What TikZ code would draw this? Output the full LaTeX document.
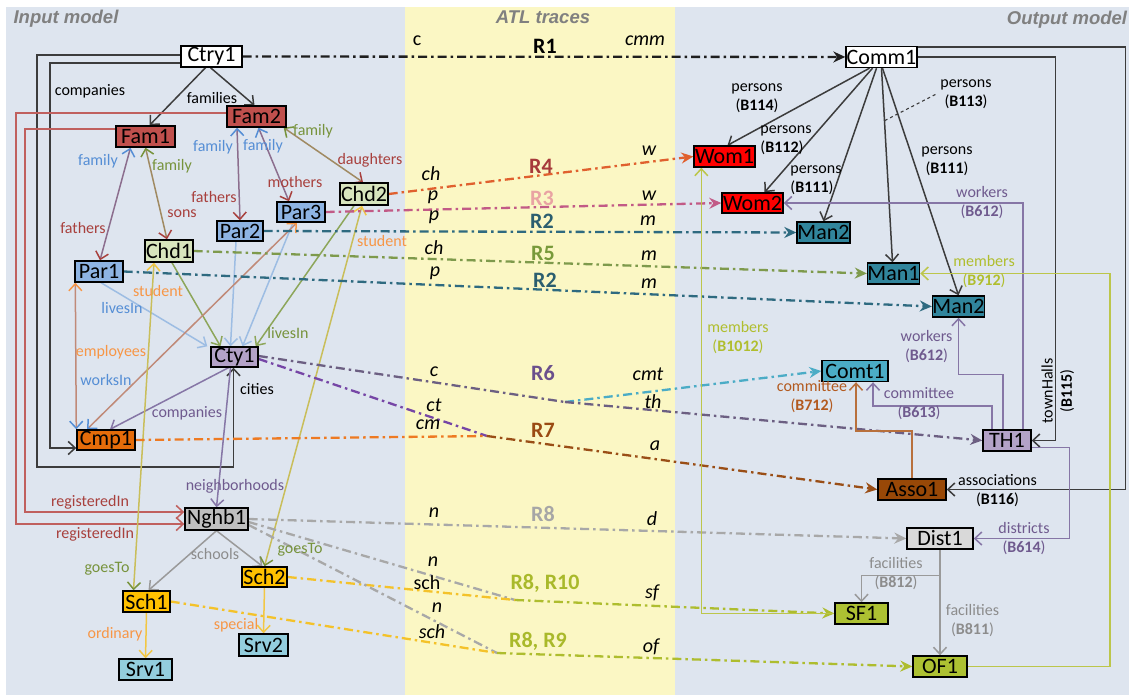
\documentclass[tikz,border=0pt]{standalone}
\usepackage{fontspec}
\setmainfont{Carlito}
\newfontfamily\headfont{Liberation Sans}
\usetikzlibrary{arrows.meta,calc}

\pgfdeclarelayer{back}
\pgfdeclarelayer{wires}
\pgfsetlayers{back,wires,main}

% panel colours
\definecolor{panelbg}{HTML}{DEE5EF}
\definecolor{bandbg}{HTML}{FBF7C4}
\definecolor{headgrey}{HTML}{808080}
% object fills
\definecolor{famfill}{HTML}{C0504D}
\definecolor{chdfill}{HTML}{D7E4BD}
\definecolor{parfill}{HTML}{8EB4E3}
\definecolor{lavfill}{HTML}{B3A2C7}
\definecolor{cmpfill}{HTML}{E46C0A}
\definecolor{nghbfill}{HTML}{BFBFBF}
\definecolor{schfill}{HTML}{FFC000}
\definecolor{srvfill}{HTML}{93CDDD}
\definecolor{womfill}{HTML}{FF0000}
\definecolor{manfill}{HTML}{31859C}
\definecolor{comtfill}{HTML}{4BACC6}
\definecolor{assofill}{HTML}{984807}
\definecolor{distfill}{HTML}{D9D9D9}
\definecolor{facfill}{HTML}{ADC132}
% label colours
\definecolor{txblue}{HTML}{558ED5}
\definecolor{txgreen}{HTML}{77933C}
\definecolor{txred}{HTML}{A8403D}
\definecolor{txorange}{HTML}{F79646}
\definecolor{txpurple}{HTML}{6F5A8E}
\definecolor{txgrey}{HTML}{8C8C8C}
\definecolor{txbrown}{HTML}{B35A1F}
\definecolor{txlime}{HTML}{B0BE2E}
% reference line colours
\definecolor{lndark}{HTML}{3C3C3C}
\definecolor{lnred}{HTML}{C0605E}
\definecolor{lnblue}{HTML}{9DBDE3}
\definecolor{lngreen}{HTML}{8DA65A}
\definecolor{lnredblue}{HTML}{8C6E8E}
\definecolor{lnredgreen}{HTML}{A08A62}
\definecolor{lnorange}{HTML}{C08A78}
\definecolor{lnyellow}{HTML}{F2C744}
\definecolor{lnstudent}{HTML}{C9BE5A}
\definecolor{lnpurple}{HTML}{8676A6}
\definecolor{lnbrown}{HTML}{B8703C}
\definecolor{lnlime}{HTML}{BCC64A}
\definecolor{lngrey}{HTML}{9A9A9A}
% trace colours
\definecolor{trblack}{HTML}{1E1E1E}
\definecolor{trRfour}{HTML}{E0602E}
\definecolor{trRthree}{HTML}{C25A86}
\definecolor{trteal}{HTML}{2E6A80}
\definecolor{trRfive}{HTML}{7E9A4C}
\definecolor{trRsix}{HTML}{6C5F82}
\definecolor{trcyan}{HTML}{4BACC6}
\definecolor{trpurple}{HTML}{7646A6}
\definecolor{trorange}{HTML}{EE7A22}
\definecolor{trbrown}{HTML}{9A4E16}
\definecolor{trgrey}{HTML}{A8A8A8}
\definecolor{trgold}{HTML}{F4C22A}
\definecolor{trlime}{HTML}{AEBD2E}
% rule name colours
\definecolor{rnRfour}{HTML}{A63A3A}
\definecolor{rnRthree}{HTML}{E9A3A3}
\definecolor{rnRtwo}{HTML}{2B5E6F}
\definecolor{rnRfive}{HTML}{789A3A}
\definecolor{rnRsix}{HTML}{6A4F8C}
\definecolor{rnRseven}{HTML}{9A4A12}
\definecolor{rnReight}{HTML}{A6A6A6}
\definecolor{rnlime}{HTML}{A9B92A}

\tikzset{
  obj/.style={draw=black, line width=1.4pt, inner sep=0pt, minimum height=21pt,
    font=\fontsize{22}{22}\selectfont},
  lbl/.style={inner sep=0pt, font=\fontsize{16}{19}\selectfont, align=center},
  endname/.style={inner sep=0pt, font=\fontsize{20}{22}\selectfont\itshape},
  endup/.style={inner sep=0pt, font=\fontsize{20}{22}\selectfont},
  rulename/.style={inner sep=0pt, font=\fontsize{22}{24}\selectfont\bfseries},
  headline/.style={inner sep=0pt, text=headgrey,
    font=\headfont\fontsize{18.5}{20}\selectfont\bfseries\itshape},
  ref/.style={draw=#1, line width=1.5pt, -{Straight Barb[length=7pt,width=13pt]}},
  ref/.default=lndark,
  bi/.style n args={3}{draw=#1, line width=1.5pt,
    {Straight Barb[length=7pt,width=13pt,color=#2]}-{Straight Barb[length=7pt,width=13pt,color=#3]}},
  link/.style={draw=#1, line width=2.3pt, dash pattern=on 9pt off 4pt on 2.5pt off 4pt},
  trace/.style={link=#1, -{Stealth[length=12pt,width=11pt,inset=4pt]}},
}

\begin{document}
\begin{tikzpicture}[x=1pt,y=-1pt]
\useasboundingbox (0,0) rectangle (1129,695);
\begin{pgfonlayer}{back}
  \fill[white] (0,0) rectangle (1129,695);
  \fill[panelbg] (6,7) rectangle (1129,695);
  \fill[bandbg] (405,7) rectangle (675,695);
\end{pgfonlayer}

% ---------- input model objects ----------
\node[obj, fill=white, minimum width=61pt] (ctry) at (211.5,56.5) {Ctry1};
\node[obj, fill=famfill, minimum width=59pt] (fam1) at (145.5,136.5) {Fam1};
\node[obj, fill=famfill, minimum width=59pt] (fam2) at (256.5,116.5) {Fam2};
\node[obj, fill=chdfill, minimum width=48pt, minimum height=22pt] (chd2) at (364,194) {Chd2};
\node[obj, fill=parfill, minimum width=48pt, minimum height=20pt] (par3) at (301,212) {Par3};
\node[obj, fill=parfill, minimum width=46pt, minimum height=20pt] (par2) at (240,231) {Par2};
\node[obj, fill=chdfill, minimum width=48pt, minimum height=22pt] (chd1) at (169,251) {Chd1};
\node[obj, fill=parfill, minimum width=48pt] (par1) at (99,271.5) {Par1};
\node[obj, fill=lavfill, minimum width=47pt, minimum height=20pt] (cty) at (234.5,357) {Cty1};
\node[obj, fill=cmpfill, minimum width=58pt, minimum height=20pt] (cmp) at (106,440) {Cmp1};
\node[obj, fill=nghbfill, minimum width=63pt, minimum height=22pt] (nghb) at (216.5,519) {Nghb1};
\node[obj, fill=schfill, minimum width=45pt, minimum height=20pt] (sch2) at (264.5,577) {Sch2};
\node[obj, fill=schfill, minimum width=47pt] (sch1) at (146.5,601.5) {Sch1};
\node[obj, fill=srvfill, minimum width=49pt, minimum height=22pt] (srv2) at (263.5,645) {Srv2};
\node[obj, fill=srvfill, minimum width=53pt] (srv1) at (145.5,669.5) {Srv1};

% ---------- output model objects ----------
\node[obj, fill=white, minimum width=71pt] (comm) at (881.5,57) {Comm1};
\node[obj, fill=womfill, minimum width=61pt] (wom1) at (724.5,156.5) {Wom1};
\node[obj, fill=womfill, minimum width=61pt, minimum height=20pt] (wom2) at (752.5,203) {Wom2};
\node[obj, fill=manfill, minimum width=53pt] (manA) at (823.5,232.5) {Man2};
\node[obj, fill=manfill, minimum width=51pt] (man1) at (893.5,273.5) {Man1};
\node[obj, fill=manfill, minimum width=51pt] (manB) at (958.5,306.5) {Man2};
\node[obj, fill=comtfill, minimum width=66pt] (comt) at (855,371) {Comt1};
\node[obj, fill=lavfill, minimum width=48pt] (th) at (1007,440.5) {TH1};
\node[obj, fill=assofill, minimum width=68pt] (asso) at (912,489.5) {Asso1};
\node[obj, fill=distfill, minimum width=66pt] (dist) at (940,538.5) {Dist1};
\node[obj, fill=facfill, minimum width=53pt] (sf) at (861.5,613.5) {SF1};
\node[obj, fill=facfill, minimum width=54pt] (of) at (940,666.5) {OF1};

% junctions where traces of one rule meet
\coordinate (j6) at (565,402);
\coordinate (j7) at (487,436);
\coordinate (j10) at (515,600);
\coordinate (j9) at (497,653);

% ---------- headings ----------
\node[headline] (hin) at (66,19) {Input model};
\node[headline] (hatl) at (543,17) {ATL traces};
\node[headline] (hout) at (1067,20) {Output model};

% ---------- input model reference labels ----------
\node[lbl] (lcomp) at (90,91) {companies};
\node[lbl] (lfams) at (212,98) {families};
\node[lbl, text=txblue] (lf1) at (98,161) {family};
\node[lbl, text=txgreen] (lf2) at (172,166) {family};
\node[lbl, text=txblue] (lf3) at (213,147) {family};
\node[lbl, text=txblue] (lf4) at (263,146) {family};
\node[lbl, text=txgreen] (lf5) at (313,131) {family};
\node[lbl, text=txred] (lfa1) at (214,197) {fathers};
\node[lbl, text=txred] (lsons) at (182,214) {sons};
\node[lbl, text=txred] (lfa2) at (83,228) {fathers};
\node[lbl, text=txred] (lmo) at (295,182) {mothers};
\node[lbl, text=txred] (ldau) at (370,160) {daughters};
\node[lbl, text=txorange] (lst1) at (158,291) {student};
\node[lbl, text=txorange] (lst2) at (382,241) {student};
\node[lbl, text=txblue] (llv1) at (122,308) {livesIn};
\node[lbl, text=txgreen] (llv2) at (288,333) {livesIn};
\node[lbl, text=txorange] (lemp) at (111,352) {employees};
\node[lbl, text=txblue] (lwk) at (106,380) {worksIn};
\node[lbl] (lcit) at (257,389) {cities};
\node[lbl, text=txpurple] (lcmp) at (187,413) {companies};
\node[lbl, text=txpurple] (lngh) at (235,486) {neighborhoods};
\node[lbl, text=txred] (lreg1) at (90,502) {registeredIn};
\node[lbl, text=txred] (lreg2) at (95,534) {registeredIn};
\node[lbl, text=txgrey] (lsch) at (215,554) {schools};
\node[lbl, text=txgreen] (lgo1) at (107,569) {goesTo};
\node[lbl, text=txgreen] (lgo2) at (300,550) {goesTo};
\node[lbl, text=txorange] (lord) at (115,634) {ordinary};
\node[lbl, text=txorange] (lspe) at (236,625) {special};

% ---------- trace end names and rule names ----------
\node[endup] (e1a) at (417,41) {c};
\node[endname] (e1b) at (645,41) {cmm};
\node[endname] (e4a) at (431,174) {ch};
\node[endname] (e4b) at (649,151) {w};
\node[endname] (e3a) at (433,197) {p};
\node[endname] (e3b) at (649,196) {w};
\node[endname] (e2a) at (434,217) {p};
\node[endname] (e2b) at (648,221) {m};
\node[endname] (e5a) at (434,248) {ch};
\node[endname] (e5b) at (649,256) {m};
\node[endname] (e2c) at (435,273) {p};
\node[endname] (e2d) at (649,284) {m};
\node[endname] (e6a) at (434,372) {c};
\node[endname] (e6b) at (648,374) {cmt};
\node[endname] (e7a) at (434,405) {ct};
\node[endname] (e6c) at (653,402) {th};
\node[endname] (e7b) at (428,425) {cm};
\node[endname] (e7c) at (655,446) {a};
\node[endname] (e8a) at (434,513) {n};
\node[endname] (e8b) at (652,519) {d};
\node[endname] (e10a) at (433,562) {n};
\node[endup] (e10b) at (427,583) {sch};
\node[endname] (e10c) at (652,593) {sf};
\node[endname] (e9a) at (437,608) {n};
\node[endname] (e9b) at (432,632) {sch};
\node[endname] (e9c) at (651,647) {of};

\node[rulename] (r1) at (545,46) {R1};
\node[rulename, text=rnRfour] (r4) at (541,166) {R4};
\node[rulename, text=rnRthree] (r3) at (542,198) {R3};
\node[rulename, text=rnRtwo] (r2a) at (542,221) {R2};
\node[rulename, text=rnRfive] (r5) at (543,253) {R5};
\node[rulename, text=rnRtwo] (r2b) at (545,280) {R2};
\node[rulename, text=rnRsix] (r6) at (543,373) {R6};
\node[rulename, text=rnRseven] (r7) at (543,430) {R7};
\node[rulename, text=rnReight] (r8) at (543,514) {R8};
\node[rulename, text=rnlime] (r810) at (545,583) {R8, R10};
\node[rulename, text=rnlime] (r89) at (538,641) {R8, R9};

% ---------- output model reference labels ----------
\node[lbl] (b114) at (757,98.5) {persons\\(\textbf{B114})};
\node[lbl, align=left] (b112) at (786,140.5) {persons\\(\textbf{B112})};
\node[lbl, align=left] (b111a) at (816,180.5) {persons\\(\textbf{B111})};
\node[lbl] (b113) at (966,94) {persons\\(\textbf{B113})};
\node[lbl] (b111b) at (947,161.5) {persons\\(\textbf{B111})};
\node[lbl, text=txpurple] (b612a) at (982,202.5) {workers\\(\textbf{B612})};
\node[lbl, text=txlime] (b912) at (984,272) {members\\(\textbf{B912})};
\node[lbl, text=txpurple] (b612b) at (926.5,347) {workers\\(\textbf{B612})};
\node[lbl, text=txlime] (b1012) at (738,337.5) {members\\(\textbf{B1012})};
\node[lbl, text=txbrown] (b712) at (812,397) {committee\\(\textbf{B712})};
\node[lbl, text=txpurple] (b613) at (919,404) {committee\\(\textbf{B613})};
\node[lbl, rotate=90] (ltown) at (1047,391) {townHalls};
\node[lbl, rotate=90] (b115) at (1067,391) {(\textbf{B115})};
\node[lbl] (b116) at (997.5,490.5) {associations\\(\textbf{B116})};
\node[lbl, text=txpurple] (b614) at (1024,539) {districts\\(\textbf{B614})};
\node[lbl, text=txgrey] (b812) at (896,574) {facilities\\(\textbf{B812})};
\node[lbl, text=txgrey] (b811) at (972.5,620.5) {facilities\\(\textbf{B811})};

\begin{pgfonlayer}{wires}
% ---------- input model references ----------
\draw[ref] ($(ctry.south)+(-6,0)$) -- ($(fam1.north)+(4,0)$);
\draw[ref] ($(ctry.south)+(-1,0)$) -- ($(fam2.north)+(-2,0)$);
\draw[ref] ($(ctry.west)+(0,6.5)$) -| (50,448) -- ($(cmp.west)+(0,8)$);
\draw[ref] ($(ctry.west)+(0,-1.5)$) -| (37,467) -| ($(cty.south)+(-1,0)$);
\draw[ref=lnred] ($(fam2.west)+(0,-3.5)$) -| (16,524) -- ($(nghb.west)+(0,5)$);
\draw[ref=lnred] ($(fam1.west)+(0,-7.5)$) -| (25,512) -- ($(nghb.west)+(0,-7)$);

\draw[bi={lnredblue}{txblue}{txred}] ($(fam1.south)+(-15,0)$) -- ($(par1.north)+(1,0)$);
\draw[bi={lnredgreen}{txgreen}{txred}] (fam1.south) -- ($(chd1.north)+(-2,0)$);
\draw[bi={lnredblue}{txblue}{txred}] ($(fam2.south)+(-19.5,0)$) -- (par2.north);
\draw[bi={lnredblue}{txblue}{txred}] ($(fam2.south)+(2,0)$) -- ($(par3.north)+(-12,0)$);
\draw[bi={lnredgreen}{txgreen}{txred}] ($(fam2.south east)+(-3,0)$) -- ($(chd2.north)+(-1,0)$);

\draw[ref=lnblue] ($(par1.south)+(2,0)$) -- ($(cty.north west)+(-3,0)$);
\draw[ref=lngreen] ($(chd1.south)+(3,0)$) -- ($(cty.north)+(-14,0)$);
\draw[ref=lnblue] ($(par2.south)+(-4,0)$) -- ($(cty.north)+(-4,0)$);
\draw[ref=lnblue] ($(par3.south)+(-8,0)$) -- ($(cty.north)+(8,0)$);
\draw[ref=lngreen] ($(chd2.south)+(-10,0)$) -- ($(cty.north east)+(-3,0)$);

\draw[bi={lnorange}{txorange}{txblue}] ($(par1.south west)+(1,0)$) -- (cmp.north west);
\draw[bi={lnorange}{txorange}{txblue}] ($(par3.south)+(-4,0)$) -- ($(cmp.north)+(-19,0)$);
\draw[ref=lnpurple] ($(cty.south)+(-6,0)$) -- ($(cmp.north)+(4,0)$);
\draw[ref=lnpurple] ($(cty.south)+(-4,0)$) -- (nghb.north);
\draw[ref=lngrey] (nghb.south) -- ($(sch1.north)+(2,0)$);
\draw[ref=lngrey] (nghb.south) -- ($(sch2.north)+(-2,0)$);
\draw[bi={lnstudent}{lnyellow}{txgreen}] ($(chd1.south)+(-15,0)$) -- ($(sch1.north)+(-13,0)$);
\draw[bi={lnstudent}{lnyellow}{txgreen}] ($(chd2.south)+(-2,0)$) -- (sch2.north);
\draw[ref=lnyellow] (sch1.south) -- (srv1.north);
\draw[ref=lnyellow] (sch2.south) -- (srv2.north);

% ---------- ATL traces ----------
\draw[trace=trblack] (ctry) -- (comm);
\draw[trace=trRfour] (chd2.east) -- (wom1.west);
\draw[trace=trRthree] (par3.east) -- (wom2.west);
\draw[trace=trteal] (par2.east) -- (manA.west);
\draw[trace=trRfive] (chd1.east) -- (man1.west);
\draw[trace=trteal] (par1.east) -- (manB.west);
\draw[link=trRsix] ($(cty.east)+(0,-1)$) -- (j6);
\draw[trace=trcyan] (j6) -- (comt.west);
\draw[trace=trRsix] (j6) -- (th.west);
\draw[link=trpurple] ($(cty.east)+(0,2)$) -- (j7);
\draw[link=trorange] (cmp.east) -- (j7);
\draw[trace=trbrown] (j7) -- (asso.west);
\draw[trace=trgrey] (nghb.east) -- (dist.west);
\draw[link=trgrey] ($(nghb.east)+(0,3)$) -- (j10);
\draw[link=trgold] (sch2.east) -- (j10);
\draw[trace=trlime] (j10) -- (sf.west);
\draw[link=trgrey] ($(nghb.east)+(0,6)$) -- (j9);
\draw[link=trgold] (sch1.east) -- (j9);
\draw[trace=trlime] (j9) -- (of.west);

% ---------- output model references ----------
\draw[ref] ($(comm.south)+(-12,0)$) -- ($(wom1.north)+(3,0)$);
\draw[ref] ($(comm.south)+(-9,0)$) -- ($(wom2.north)+(12,0)$);
\draw[ref] ($(comm.south)+(-5,0)$) -- (manA.north);
\draw[ref] (comm.south) -- ($(man1.north)+(-1,0)$);
\draw[ref] ($(comm.south)+(1,0)$) -- (manB.north);
\draw[lndark, line width=1.1pt, dashed] ($(comm.south)!0.27!(man1.north)$) -- ($(b113.west)+(-4,0)$);
\draw[ref] (comm.east) -| ($(th.east)+(24,0)$) -- (th.east);
\draw[ref] ($(comm.north east)+(0,1)$) -| ($(asso.east)+(179,0)$) -- (asso.east);
\draw[ref=lnpurple] ($(th.north)+(-4,0)$) |- ($(manB.south)+(0,57)$) -- (manB.south);
\draw[ref=lnpurple] ($(th.north)+(16,0)$) |- (wom2.east);
\draw[ref=lnpurple] ($(th.north)+(-15,0)$) |- ($(comt.south)+(18,24)$) -- ($(comt.south)+(18,0)$);
\draw[ref=lnbrown] (asso.north) |- ($(comt.south)+(1,49)$) -- ($(comt.south)+(1,0)$);
\draw[ref=lnpurple] ($(th.east)+(0,7)$) -| ($(dist.east)+(96,0)$) -- (dist.east);
\draw[ref=lngrey] (dist.south) |- ($(sf.north)+(0,-27)$) -- (sf.north);
\draw[ref=lngrey] (dist.south) -- (of.north);
\draw[ref=lnlime] (sf.west) -| ($(wom1.south west)+(8,0)$);
\draw[ref=lnlime] (of.east) -| ($(man1.east)+(190,0)$) -- (man1.east);
\end{pgfonlayer}
\end{tikzpicture}
\end{document}
